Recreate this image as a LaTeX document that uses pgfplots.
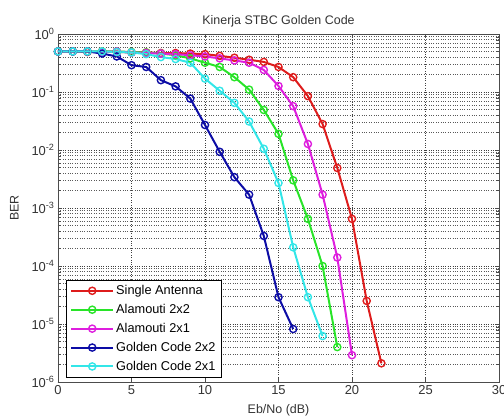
\documentclass[border=0pt]{standalone}
\usepackage{fontspec}
\setmainfont{Liberation Sans}
\usepackage{pgfplots}
\pgfplotsset{compat=1.18}

\definecolor{cRed}{RGB}{222,28,28}
\definecolor{cGreen}{RGB}{40,228,40}
\definecolor{cMag}{RGB}{222,30,222}
\definecolor{cBlue}{RGB}{12,12,165}
\definecolor{cCyan}{RGB}{50,230,232}

\begin{document}
\begin{tikzpicture}
\begin{semilogyaxis}[
    name=ax,
    scale only axis,
    width=441bp, height=348bp,
    xmin=0, xmax=30, ymin=1e-6, ymax=1,
    xtick={0,5,...,30},
    ytick={1e-6,1e-5,1e-4,1e-3,1e-2,1e-1,1},
    yticklabels={{10\textsuperscript{-6}},{10\textsuperscript{-5}},{10\textsuperscript{-4}},{10\textsuperscript{-3}},{10\textsuperscript{-2}},{10\textsuperscript{-1}},{10\textsuperscript{0}}},
    /pgf/number format/assume math mode=true,
    tick align=inside,
    tick pos=both,
    grid=both,
    major grid style={black!75, dotted, line width=0.6pt},
    minor grid style={black!65, dotted, line width=0.6pt},
    axis line style={black!70, line width=0.6pt},
    tick style={black!70},
    tick label style={font=\fontsize{13}{15}\selectfont, text=black!80},
    title={Kinerja STBC Golden Code},
    title style={font=\fontsize{12.5}{14}\selectfont, text=black!80, yshift=-3bp},
    xlabel={Eb/No (dB)},
    ylabel={BER},
    label style={font=\fontsize{12.5}{14}\selectfont, text=black!80},
    xlabel style={yshift=-3bp},
    ylabel style={yshift=6bp},
    every axis plot/.append style={line width=2pt, mark=o, mark size=3.6pt,
        mark options={line width=1.4pt}},
    legend cell align=left,
    legend style={at={(0.018,0.014)}, anchor=south west,
        draw=black, line width=0.6pt, fill=white,
        font=\fontsize{12.8}{14}\selectfont,
        row sep=4.2bp, inner xsep=4bp, inner ysep=3bp},
    legend image code/.code={
        \draw[mark repeat=2, mark phase=2] plot coordinates {(0bp,0bp) (21bp,0bp) (42bp,0bp)};
    },
]
% Single Antenna
\addplot[color=cRed] coordinates {
(0,0.5) (1,0.5) (2,0.49) (3,0.5) (4,0.49) (5,0.48) (6,0.48) (7,0.47) (8,0.47)
(9,0.46) (10,0.45) (11,0.42) (12,0.39) (13,0.36) (14,0.33) (15,0.27) (16,0.18)
(17,0.085) (18,0.028) (19,0.0049) (20,6.5e-4) (21,2.5e-5) (22,2.1e-6)};
% Alamouti 2x2
\addplot[color=cGreen] coordinates {
(0,0.5) (1,0.5) (2,0.5) (3,0.5) (4,0.5) (5,0.49) (6,0.48) (7,0.46) (8,0.43)
(9,0.38) (10,0.32) (11,0.27) (12,0.18) (13,0.11) (14,0.049) (15,0.019)
(16,0.003) (17,6.5e-4) (18,1.0e-4) (19,4e-6)};
% Alamouti 2x1
\addplot[color=cMag] coordinates {
(0,0.5) (1,0.5) (2,0.5) (3,0.49) (4,0.5) (5,0.48) (6,0.47) (7,0.46) (8,0.45)
(9,0.43) (10,0.41) (11,0.38) (12,0.35) (13,0.32) (14,0.24) (15,0.127)
(16,0.057) (17,0.0127) (18,0.0017) (19,1.4e-4) (20,2.9e-6)};
% Golden Code 2x2
\addplot[color=cBlue] coordinates {
(0,0.5) (1,0.5) (2,0.5) (3,0.46) (4,0.41) (5,0.29) (6,0.27) (7,0.16) (8,0.125)
(9,0.077) (10,0.027) (11,0.0093) (12,0.0034) (13,0.0017) (14,3.3e-4)
(15,2.9e-5) (16,8.2e-6)};
% Golden Code 2x1
\addplot[color=cCyan] coordinates {
(0,0.5) (1,0.5) (2,0.5) (3,0.5) (4,0.49) (5,0.48) (6,0.45) (7,0.40) (8,0.37)
(9,0.32) (10,0.17) (11,0.105) (12,0.065) (13,0.031) (14,0.0105) (15,0.0027)
(16,2.1e-4) (17,2.9e-5) (18,6.2e-6)};
\legend{Single Antenna, Alamouti 2x2, Alamouti 2x1, Golden Code 2x2, Golden Code 2x1}
\end{semilogyaxis}
\pgfresetboundingbox
\path[use as bounding box] ([xshift=-58bp,yshift=-37bp]ax.south west)
    rectangle ([xshift=5bp,yshift=34bp]ax.north east);
\end{tikzpicture}
\end{document}
